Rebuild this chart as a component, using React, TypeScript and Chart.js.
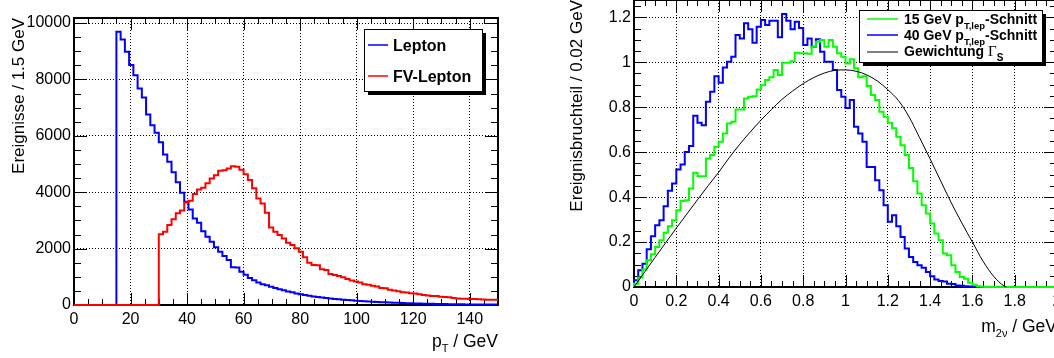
import React, { useEffect, useRef } from 'react';
import { Chart, registerables } from 'chart.js';

Chart.register(...registerables);

const FONT = '"Liberation Sans", Arial, Helvetica, sans-serif';
const SERIF = '"Liberation Serif", "DejaVu Serif", serif';

// ---------------- Left panel: p_T spectra (bin width 1.5 GeV, 0..150) ----------------
const ptBinWidth = 1.5;
const ptMin = 0;
const ptMax = 150;
const ptAxisTop = 10180;

const leptonCounts = [
  0, 0, 0, 0, 0, 0, 0, 0, 0, 0,
  9690, 9420, 8980, 8510, 8150, 7680, 7360, 6760, 6380, 6110,
  5770, 5340, 5080, 4710, 4350, 3980, 3660, 3390, 3070, 2920,
  2620, 2420, 2240, 2050, 1890, 1740, 1600, 1340, 1330, 1180,
  1070, 960, 880, 800, 740, 700, 650, 600, 560, 520,
  480, 450, 410, 380, 355, 330, 300, 280, 265, 245,
  230, 215, 200, 190, 175, 165, 155, 145, 135, 125,
  118, 110, 100, 95, 88, 82, 76, 70, 64, 60,
  55, 50, 46, 42, 40, 37, 34, 32, 30, 28,
  26, 24, 22, 21, 20, 18, 17, 16, 15, 14,
];

const fvLeptonCounts = [
  0, 0, 0, 0, 0, 0, 0, 0, 0, 0,
  0, 0, 0, 0, 0, 0, 0, 0, 0, 0,
  2510, 2600, 2840, 3040, 3250, 3350, 3640, 3700, 3940, 4100,
  4160, 4320, 4490, 4600, 4760, 4780, 4840, 4920, 4900, 4800,
  4640, 4430, 4140, 3780, 3600, 3270, 2750, 2600, 2480, 2360,
  2210, 2130, 2010, 1890, 1690, 1500, 1420, 1410, 1265, 1240,
  1100, 1060, 1030, 980, 920, 865, 830, 800, 735, 720,
  680, 660, 600, 590, 545, 510, 490, 450, 445, 420,
  410, 380, 355, 340, 320, 315, 290, 280, 272, 250,
  230, 225, 220, 213, 210, 200, 195, 190, 188, 190,
];

const ptTickValues = [0, 20, 40, 60, 80, 100, 120, 140];
const countTickValues = [0, 2000, 4000, 6000, 8000, 10000];

// ---------------- Right panel: m_2nu fractions (bin width 0.02 GeV, 0..2) ----------------
const mBinWidth = 0.02;
const mMin = 0;
const mMax = 2;
const fracAxisTop = 1.277;

const cut15Fraction = [
  0.015, 0.042, 0.078, 0.119, 0.146, 0.178, 0.208, 0.241, 0.270, 0.297,
  0.342, 0.383, 0.386, 0.438, 0.508, 0.493, 0.493, 0.572, 0.587, 0.624,
  0.646, 0.683, 0.728, 0.735, 0.790, 0.790, 0.839, 0.846, 0.849, 0.879,
  0.898, 0.921, 0.933, 0.965, 0.943, 0.998, 0.998, 1.005, 1.042, 1.040,
  1.040, 1.038, 1.069, 1.091, 1.099, 1.069, 1.099, 1.069, 1.040, 1.024,
  0.995, 1.013, 0.973, 0.933, 0.938, 0.894, 0.854, 0.832, 0.780, 0.757,
  0.731, 0.706, 0.668, 0.631, 0.587, 0.530, 0.470, 0.416, 0.364, 0.327,
  0.282, 0.238, 0.208, 0.149, 0.141, 0.097, 0.067, 0.045, 0.037, 0.019,
  0.010, 0.003, 0.001, 0, 0, 0, 0, 0, 0, 0,
  0, 0, 0, 0, 0, 0, 0, 0, 0, 0,
];

const cut40Fraction = [
  0.030, 0.074, 0.104, 0.168, 0.226, 0.275, 0.297, 0.359, 0.428, 0.460,
  0.523, 0.545, 0.601, 0.627, 0.762, 0.731, 0.720, 0.824, 0.869, 0.938,
  0.909, 0.977, 1.002, 1.024, 1.121, 1.106, 1.173, 1.147, 1.087, 1.158,
  1.188, 1.166, 1.185, 1.185, 1.111, 1.215, 1.185, 1.147, 1.180, 1.152,
  1.077, 1.106, 1.069, 1.102, 1.047, 1.002, 1.002, 0.965, 0.876, 0.846,
  0.797, 0.832, 0.713, 0.683, 0.646, 0.534, 0.534, 0.475, 0.431, 0.364,
  0.290, 0.319, 0.270, 0.223, 0.171, 0.134, 0.111, 0.097, 0.086, 0.067,
  0.048, 0.033, 0.027, 0.025, 0.015, 0.013, 0.007, 0.006, 0.003, 0.002,
  0.001, 0, 0, 0, 0, 0, 0, 0, 0, 0,
  0, 0, 0, 0, 0, 0, 0, 0, 0, 0,
];

const gammaMass = [
  0, 0.05, 0.1, 0.15, 0.2, 0.25, 0.3, 0.35, 0.4, 0.45,
  0.5, 0.55, 0.6, 0.65, 0.7, 0.75, 0.8, 0.85, 0.9, 0.95,
  1.0, 1.05, 1.1, 1.15, 1.2, 1.25, 1.3, 1.35, 1.4, 1.45,
  1.5, 1.55, 1.6, 1.65, 1.7, 1.75, 1.76,
];
const gammaWeight = [
  0, 0.066, 0.132, 0.197, 0.262, 0.325, 0.388, 0.45, 0.51, 0.575,
  0.635, 0.69, 0.742, 0.79, 0.835, 0.872, 0.905, 0.932, 0.952, 0.964,
  0.966, 0.960, 0.944, 0.917, 0.878, 0.830, 0.758, 0.665, 0.570, 0.472,
  0.375, 0.285, 0.200, 0.115, 0.048, 0.004, 0,
];

const mTickValues = [0, 0.2, 0.4, 0.6, 0.8, 1, 1.2, 1.4, 1.6, 1.8, 2];
const fracTickValues = [0, 0.2, 0.4, 0.6, 0.8, 1, 1.2];

// ---------------- helpers ----------------
function histPoints(values: number[], lo: number, width: number) {
  const pts: { x: number; y: number }[] = [{ x: lo, y: 0 }];
  values.forEach((v, i) => pts.push({ x: lo + i * width, y: v }));
  pts.push({ x: lo + values.length * width, y: values[values.length - 1] });
  return pts;
}

type Seg = { t: string; size: number; bold?: boolean; dy?: number; family?: string };

function segFont(s: Seg) {
  return `${s.bold ? 'bold ' : ''}${s.size}px ${s.family || FONT}`;
}

function drawSegs(ctx: CanvasRenderingContext2D, segs: Seg[], x: number, y: number, align: 'left' | 'right') {
  ctx.textAlign = 'left';
  ctx.textBaseline = 'alphabetic';
  let total = 0;
  for (const s of segs) {
    ctx.font = segFont(s);
    total += ctx.measureText(s.t).width;
  }
  let cx = align === 'right' ? x - total : x;
  for (const s of segs) {
    ctx.font = segFont(s);
    ctx.fillText(s.t, cx, y + (s.dy || 0));
    cx += ctx.measureText(s.t).width;
  }
}

type FrameCfg = {
  xMin: number; xMax: number; xMajor: number; xMinor: number;
  yMin: number; yMax: number; yMajor: number; yMinor: number;
};

function framePlugin(cfg: FrameCfg) {
  return {
    id: 'rootFrame',
    beforeDatasetsDraw(chart: any) {
      const { ctx, chartArea: a } = chart;
      const sx = chart.scales.x;
      const sy = chart.scales.y;
      ctx.save();
      ctx.strokeStyle = '#000';
      ctx.lineWidth = 1;
      ctx.beginPath();
      const nx = Math.round((cfg.xMax - cfg.xMin) / cfg.xMinor);
      const perX = Math.round(cfg.xMajor / cfg.xMinor);
      for (let i = 0; i <= nx; i++) {
        const v = cfg.xMin + i * cfg.xMinor;
        const px = Math.round(sx.getPixelForValue(v)) + 0.5;
        const len = i % perX === 0 ? 12 : 6;
        ctx.moveTo(px, a.bottom);
        ctx.lineTo(px, a.bottom - len);
        ctx.moveTo(px, a.top);
        ctx.lineTo(px, a.top + len);
      }
      const ny = Math.floor((cfg.yMax - cfg.yMin) / cfg.yMinor + 1e-6);
      const perY = Math.round(cfg.yMajor / cfg.yMinor);
      for (let i = 0; i <= ny; i++) {
        const v = cfg.yMin + i * cfg.yMinor;
        const py = Math.round(sy.getPixelForValue(v)) + 0.5;
        const len = i % perY === 0 ? 13 : 7;
        ctx.moveTo(a.left, py);
        ctx.lineTo(a.left + len, py);
        ctx.moveTo(a.right, py);
        ctx.lineTo(a.right - len, py);
      }
      ctx.stroke();
      ctx.lineWidth = 2;
      ctx.strokeRect(a.left, a.top, a.right - a.left, a.bottom - a.top);
      ctx.restore();
    },
  };
}

type LegendEntry = { color: string; width: number; lineY: number; segs: Seg[]; baseY: number };
type LegendCfg = { x: number; y: number; w: number; h: number; lineX0: number; lineX1: number; textX: number; entries: LegendEntry[] };

type TitleCfg = { segs: Seg[]; x: number; y: number; rotate: boolean };

function decoPlugin(legend: LegendCfg, titles: TitleCfg[]) {
  return {
    id: 'rootDeco',
    afterDraw(chart: any) {
      const ctx: CanvasRenderingContext2D = chart.ctx;
      ctx.save();
      ctx.fillStyle = '#000';
      ctx.fillRect(legend.x + 4, legend.y + 4, legend.w, legend.h);
      ctx.fillStyle = '#fff';
      ctx.fillRect(legend.x, legend.y, legend.w, legend.h);
      ctx.strokeStyle = '#000';
      ctx.lineWidth = 1;
      ctx.strokeRect(legend.x + 0.5, legend.y + 0.5, legend.w, legend.h);
      for (const e of legend.entries) {
        ctx.strokeStyle = e.color;
        ctx.lineWidth = e.width;
        ctx.beginPath();
        ctx.moveTo(legend.lineX0, e.lineY);
        ctx.lineTo(legend.lineX1, e.lineY);
        ctx.stroke();
        ctx.fillStyle = '#000';
        drawSegs(ctx, e.segs, legend.textX, e.baseY, 'left');
      }
      ctx.fillStyle = '#000';
      for (const t of titles) {
        if (t.rotate) {
          ctx.save();
          ctx.translate(t.x, t.y);
          ctx.rotate(-Math.PI / 2);
          drawSegs(ctx, t.segs, 0, 0, 'right');
          ctx.restore();
        } else {
          drawSegs(ctx, t.segs, t.x, t.y, 'right');
        }
      }
      ctx.restore();
    },
  };
}

function axisOptions(min: number, max: number, tickValues: number[], fix: (s: any) => void, fmt: (v: number) => string, padding: number) {
  return {
    type: 'linear' as const,
    min,
    max,
    afterBuildTicks: (s: any) => {
      s.ticks = tickValues.map((v) => ({ value: v }));
    },
    afterFit: (s: any) => {
      fix(s);
      s.paddingLeft = 0;
      s.paddingRight = 0;
      s.paddingTop = 0;
      s.paddingBottom = 0;
    },
    ticks: {
      autoSkip: false,
      maxRotation: 0,
      minRotation: 0,
      padding,
      color: '#000',
      font: { family: FONT, size: 16 },
      callback: (v: any) => fmt(Number(v)),
    },
    grid: { color: '#000', lineWidth: 1, drawTicks: false },
    border: { display: false, dash: [1, 2] },
  };
}

const W_LEFT = 530;
const W_RIGHT = 560;
const H = 358;

function histDataset(label: string, values: number[], lo: number, width: number, color: string, order: number) {
  return {
    label,
    data: histPoints(values, lo, width),
    borderColor: color,
    borderWidth: 2,
    stepped: 'before',
    pointRadius: 0,
    fill: false,
    clip: 3,
    order,
  };
}

function leftConfig(): any {
  const plotLeft = 74;
  const plotRight = 498;
  const plotTop = 18;
  const plotBottom = 305;
  return {
    type: 'line',
    data: {
      datasets: [
        histDataset('FV-Lepton', fvLeptonCounts, ptMin, ptBinWidth, '#ff0000', 1),
        histDataset('Lepton', leptonCounts, ptMin, ptBinWidth, '#0000ff', 2),
      ],
    },
    options: {
      animation: false,
      responsive: false,
      devicePixelRatio: 1,
      layout: { padding: { left: 0, top: plotTop, right: W_LEFT - plotRight, bottom: 0 } },
      plugins: { legend: { display: false }, tooltip: { enabled: false }, title: { display: false } },
      scales: {
        x: axisOptions(ptMin, ptMax, ptTickValues, (s) => { s.height = H - plotBottom; }, (v) => String(v), 5),
        y: axisOptions(0, ptAxisTop, countTickValues, (s) => { s.width = plotLeft; }, (v) => String(v), 3),
      },
    },
    plugins: [
      framePlugin({ xMin: ptMin, xMax: ptMax, xMajor: 20, xMinor: 5, yMin: 0, yMax: ptAxisTop, yMajor: 2000, yMinor: 500 }),
      decoPlugin(
        {
          x: 364, y: 29, w: 118, h: 62, lineX0: 368, lineX1: 388, textX: 393,
          entries: [
            { color: '#0000ff', width: 1.5, lineY: 45, baseY: 51, segs: [{ t: 'Lepton', size: 16, bold: true }] },
            { color: '#ff0000', width: 1.5, lineY: 76, baseY: 82, segs: [{ t: 'FV-Lepton', size: 16, bold: true }] },
          ],
        },
        [
          { rotate: true, x: 24, y: plotTop, segs: [{ t: 'Ereignisse / 1.5 GeV', size: 17 }] },
          {
            rotate: false, x: plotRight, y: 347,
            segs: [{ t: 'p', size: 17.5 }, { t: 'T', size: 11, dy: 5 }, { t: ' / GeV', size: 17.5 }],
          },
        ],
      ),
    ],
  };
}

function rightConfig(): any {
  const offset = 530;
  const plotLeft = 634 - offset;
  const plotRight = 1057 - offset;
  const plotTop = 0;
  const plotBottom = 287;
  return {
    type: 'line',
    data: {
      datasets: [
        {
          label: 'Gewichtung',
          data: gammaMass.map((m, i) => ({ x: m, y: gammaWeight[i] })),
          borderColor: '#000000',
          borderWidth: 1,
          cubicInterpolationMode: 'monotone',
          pointRadius: 0,
          fill: false,
          clip: 3,
          order: 0,
        },
        histDataset('15 GeV', cut15Fraction, mMin, mBinWidth, '#00ff00', 1),
        histDataset('40 GeV', cut40Fraction, mMin, mBinWidth, '#0000ff', 2),
      ],
    },
    options: {
      animation: false,
      responsive: false,
      devicePixelRatio: 1,
      layout: { padding: { left: 0, top: plotTop, right: W_RIGHT - plotRight, bottom: 0 } },
      plugins: { legend: { display: false }, tooltip: { enabled: false }, title: { display: false } },
      scales: {
        x: axisOptions(mMin, mMax, mTickValues, (s) => { s.height = H - plotBottom; }, (v) => String(Math.round(v * 10) / 10), 5),
        y: axisOptions(0, fracAxisTop, fracTickValues, (s) => { s.width = plotLeft; }, (v) => String(Math.round(v * 10) / 10), 3),
      },
    },
    plugins: [
      framePlugin({ xMin: mMin, xMax: mMax, xMajor: 0.2, xMinor: 0.05, yMin: 0, yMax: fracAxisTop, yMajor: 0.2, yMinor: 0.05 }),
      decoPlugin(
        {
          x: 859 - offset, y: 10, w: 183, h: 52, lineX0: 867 - offset, lineX1: 898 - offset, textX: 904 - offset,
          entries: [
            {
              color: '#00ff00', width: 1.5, lineY: 19, baseY: 23.5,
              segs: [{ t: '15 GeV p', size: 14, bold: true }, { t: 'T,lep', size: 9.5, bold: true, dy: 5 }, { t: '-Schnitt', size: 14, bold: true }],
            },
            {
              color: '#0000ff', width: 1.5, lineY: 35, baseY: 39.5,
              segs: [{ t: '40 GeV p', size: 14, bold: true }, { t: 'T,lep', size: 9.5, bold: true, dy: 5 }, { t: '-Schnitt', size: 14, bold: true }],
            },
            {
              color: '#000000', width: 1, lineY: 52, baseY: 56,
              segs: [{ t: 'Gewichtung ', size: 14, bold: true }, { t: 'Γ', size: 15, family: SERIF }, { t: 'S', size: 10, bold: true, dy: 5 }],
            },
          ],
        },
        [
          { rotate: true, x: 52, y: plotTop, segs: [{ t: 'Ereignisbruchteil / 0.02 GeV', size: 17 }] },
          {
            rotate: false, x: plotRight, y: 332,
            segs: [{ t: 'm', size: 17.5 }, { t: '2ν', size: 11, dy: 5 }, { t: ' / GeV', size: 17.5 }],
          },
        ],
      ),
    ],
  };
}

export default function App() {
  const leftRef = useRef<HTMLCanvasElement>(null);
  const rightRef = useRef<HTMLCanvasElement>(null);

  useEffect(() => {
    Chart.defaults.font.family = FONT;
    const c1 = new Chart(leftRef.current as HTMLCanvasElement, leftConfig());
    const c2 = new Chart(rightRef.current as HTMLCanvasElement, rightConfig());
    return () => {
      c1.destroy();
      c2.destroy();
    };
  }, []);

  return (
    <div style={{ position: 'fixed', left: 0, top: 0, width: 1054, height: 358, overflow: 'hidden', background: '#fff' }}>
      <canvas ref={leftRef} width={W_LEFT} height={H} style={{ position: 'absolute', left: 0, top: 0, width: W_LEFT, height: H }} />
      <canvas ref={rightRef} width={W_RIGHT} height={H} style={{ position: 'absolute', left: 530, top: 0, width: W_RIGHT, height: H }} />
    </div>
  );
}
